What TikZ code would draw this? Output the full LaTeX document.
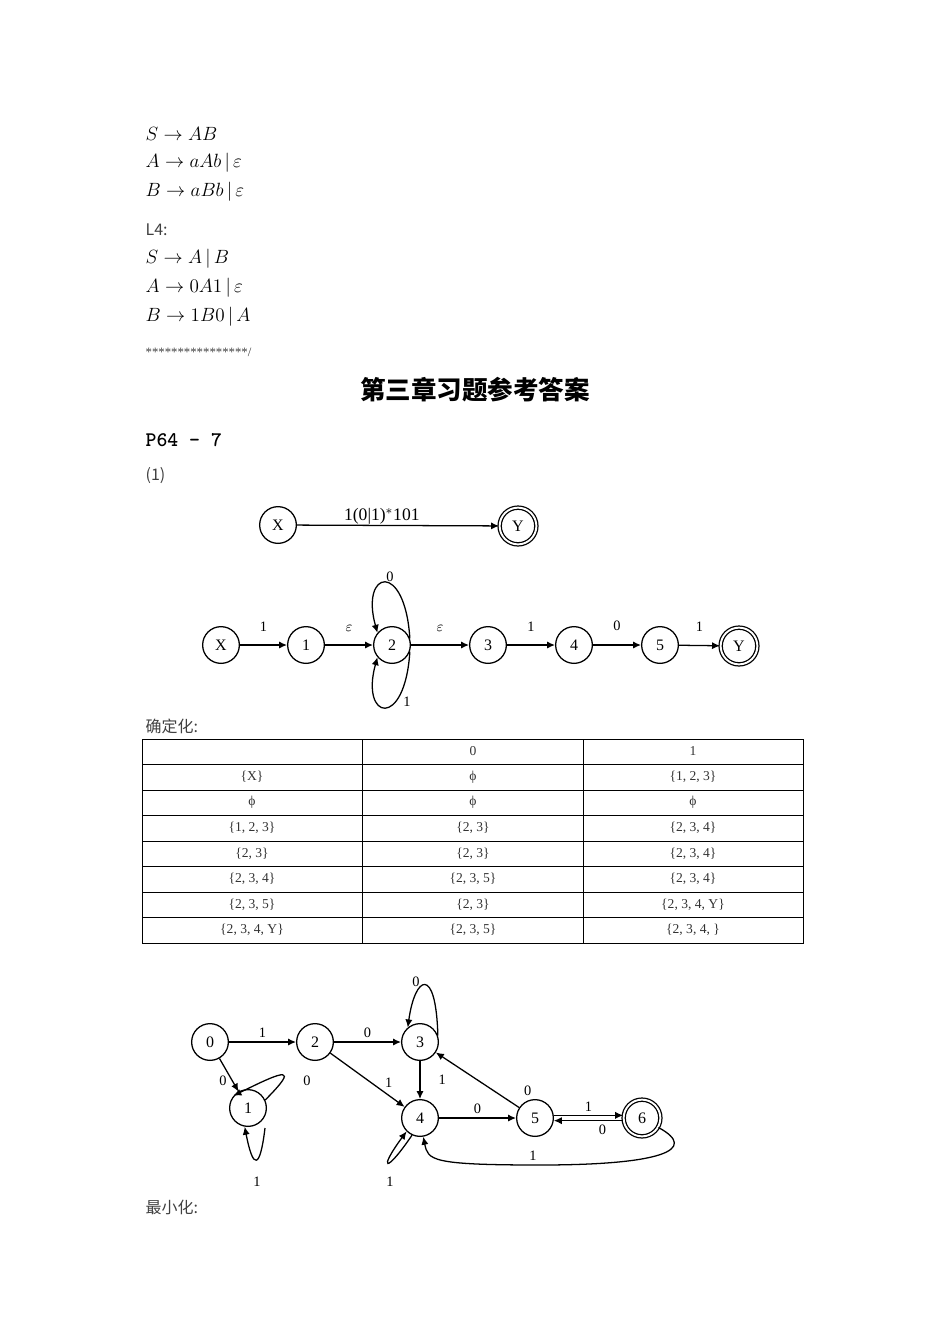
\documentclass[tikz,border=0pt]{standalone}
\usepackage{fontspec}
\setmainfont{Liberation Serif}
\newfontfamily\cjk{Noto Sans CJK SC}
\usetikzlibrary{arrows.meta}
\begin{document}
\begin{tikzpicture}[x=0.6263pt,y=-0.6263pt,
  st/.style={circle,draw,line width=0.8pt,minimum size=23pt,inner sep=0pt,font=\fontsize{10}{10}\selectfont},
  acc/.style={st,double,double distance=1.2pt},
  ed/.style={-{Latex[length=5pt,width=4.5pt]},line width=0.8pt},
  lb/.style={font=\fontsize{9}{9}\selectfont},
  gr/.style={anchor=west,font=\fontsize{12}{12}\selectfont},
  tx/.style={anchor=west,font=\fontsize{10}{10}\selectfont\cjk,text=black!75},
  tc/.style={font=\fontsize{8.5}{9}\selectfont,text=black!80}]
\useasboundingbox (0,0) rectangle (950,1344);
\node[gr] (g1) at (140,134) {$S\rightarrow AB$};
\node[gr] (g2) at (140,163) {$A\rightarrow aAb\,|\,\varepsilon$};
\node[gr] (g3) at (140,192) {$B\rightarrow aBb\,|\,\varepsilon$};
\node[tx] (l4) at (140,230) {L4:};
\node[gr] (g4) at (140,259) {$S\rightarrow A\,|\,B$};
\node[gr] (g5) at (140,288) {$A\rightarrow 0A1\,|\,\varepsilon$};
\node[gr] (g6) at (140,317) {$B\rightarrow 1B0\,|\,A$};
\node[tx,font=\fontsize{8}{8}\selectfont] (stars) at (140,352) {****************/};
\node[font=\fontsize{16}{16}\selectfont\cjk\bfseries] (title) at (475,390) {第三章习题参考答案};
\node[anchor=west,font=\fontsize{13}{13}\selectfont\bfseries\ttfamily] (p64) at (140,440) {P64 - 7};
\node[tx] (q1) at (140,476) {(1)};
% first automaton
\node[st] (a) at (278,525) {X};
\node[acc] (b) at (518,526) {Y};
\draw[ed] (a) -- (b) node[pos=0.42,above=-3pt,font=\fontsize{11}{11}\selectfont] {1(0|1)$^*$101};
% second automaton
\node[st] (nx) at (221,645) {X};
\node[st] (n1) at (306,645) {1};
\node[st] (n2) at (392,645) {2};
\node[st] (n3) at (488,645) {3};
\node[st] (n4) at (574,645) {4};
\node[st] (n5) at (660,645) {5};
\node[acc] (ny) at (739,646) {Y};
\draw[ed] (nx) -- node[lb,above=5pt]{1} (n1);
\draw[ed] (n1) -- node[lb,above=5pt]{$\varepsilon$} (n2);
\draw[ed] (n2) -- node[lb,above=5pt]{$\varepsilon$} (n3);
\draw[ed] (n3) -- node[lb,above=5pt]{1} (n4);
\draw[ed] (n4) -- node[lb,above=5pt]{0} (n5);
\draw[ed] (n5) -- node[lb,above=5pt]{1} (ny);
\draw[ed] (n2.20) .. controls (405,560) and (360,570) .. (n2.140);
\draw[ed] (n2.-20) .. controls (405,730) and (360,720) .. (n2.-140);
\node[lb] (l0) at (390,577) {0};
\node[lb] (l1) at (407,702) {1};
\node[tx] (det) at (140,726) {确定化:};
% table
\draw[line width=0.6pt] (142,739) rectangle (803,943);
\foreach \y in {764,790,815,841,866,892,917} \draw[line width=0.6pt] (142,\y) -- (803,\y);
\draw[line width=0.6pt] (362,739) -- (362,943) (583,739) -- (583,943);
\foreach \r/\ca/\cb/\cc in {0//0/1,1/{\{X\}}/{ϕ}/{\{1, 2, 3\}},2/{ϕ}/{ϕ}/{ϕ},3/{\{1, 2, 3\}}/{\{2, 3\}}/{\{2, 3, 4\}},4/{\{2, 3\}}/{\{2, 3\}}/{\{2, 3, 4\}},5/{\{2, 3, 4\}}/{\{2, 3, 5\}}/{\{2, 3, 4\}},6/{\{2, 3, 5\}}/{\{2, 3\}}/{\{2, 3, 4, Y\}},7/{\{2, 3, 4, Y\}}/{\{2, 3, 5\}}/{\{2, 3, 4, \}}}{
  \node[tc] at (252,751.5+25.5*\r) {\ca};
  \node[tc] at (473,751.5+25.5*\r) {\cb};
  \node[tc] at (693,751.5+25.5*\r) {\cc};
}
% third automaton
\node[st] (s0) at (210,1042) {0};
\node[st] (s2) at (315,1042) {2};
\node[st] (s3) at (420,1042) {3};
\node[st] (s1) at (248,1108) {1};
\node[st] (s4) at (420,1118) {4};
\node[st] (s5) at (535,1118) {5};
\node[acc] (s6) at (642,1118) {6};
\draw[ed] (s0) -- node[lb,above=-1pt]{1} (s2);
\draw[ed] (s2) -- node[lb,above=-1pt]{0} (s3);
\draw[ed] (s0) -- (s1);
\node[lb] at (223,1081) {0};
\draw[ed] (s2) -- node[lb,pos=0.7,above right=-2pt]{1} (s4);
\draw[ed] (s3) -- node[lb,right=8pt]{1} (s4);
\draw[ed] (s4) -- node[lb,above=-1pt]{0} (s5);
\draw[ed] (s5) -- node[lb,pos=0.05,above right=2pt]{0} (s3);
\draw[ed] (s5.8) -- node[lb,above=-1pt]{1} (s6.172);
\draw[ed] (s6.188) -- node[lb,below=-1pt,pos=0.3]{0} (s5.-8);
\draw[ed] (s3.20) .. controls (436,965) and (415,975) .. (s3.130);
\node[lb] at (416,982) {0};
\draw[ed] (s1.25) .. controls (300,1065) and (285,1070) .. (s1.140);
\node[lb] at (307,1081) {0};
\draw[ed] (265,1128) .. controls (260,1170) and (253,1170) .. (s1.-100);
\node[lb] at (257,1182) {1};
\draw[ed] (s4.-115) .. controls (385,1175) and (378,1170) .. (s4.-135);
\node[lb] at (390,1182) {1};
\draw[ed] (s6.-30) .. controls (700,1150) and (660,1165) .. (540,1165) .. controls (430,1165) and (428,1160) .. (s4.-80);
\node[lb] at (533,1156) {1};
\node[tx] (min) at (140,1207) {最小化:};
\end{tikzpicture}
\end{document}
